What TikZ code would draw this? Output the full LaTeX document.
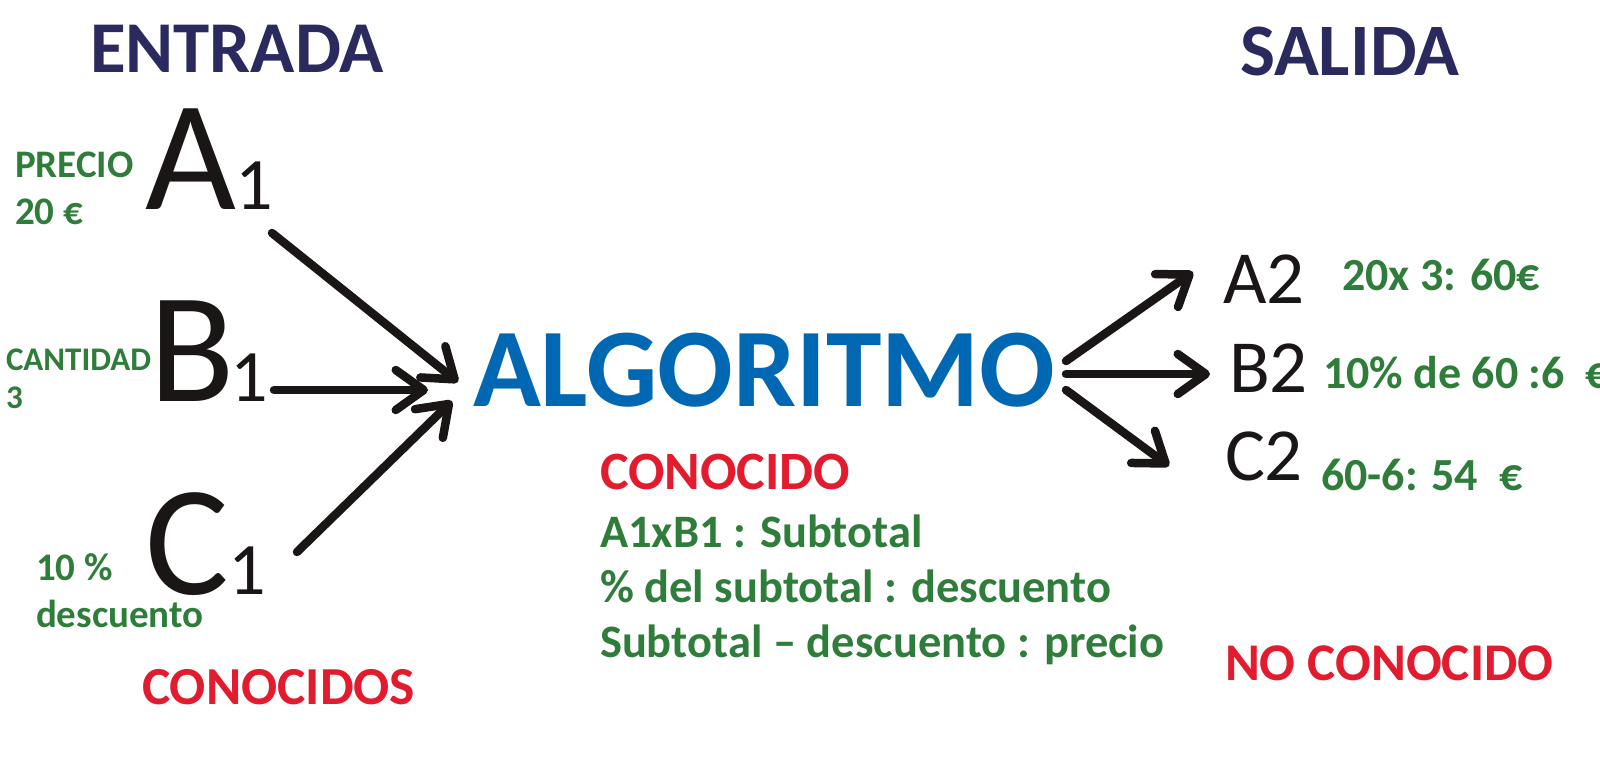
\documentclass[tikz,border=0pt]{standalone}
\usepackage{fontspec}
\setmainfont{Carlito}
\usetikzlibrary{arrows.meta}
\definecolor{navy}{HTML}{2B2A5E}
\definecolor{grn}{HTML}{2E7D3A}
\definecolor{rd}{HTML}{E31B2F}
\definecolor{blu}{HTML}{0068B3}
\definecolor{blk}{HTML}{1A1616}
\tikzset{
  txt/.style={inner sep=0pt, outer sep=0pt, anchor=base west},
  head/.style={txt, text=navy, font=\bfseries\fontsize{73}{85}\selectfont},
  note/.style={txt, text=grn, font=\bfseries\fontsize{39}{47}\selectfont},
  note2/.style={txt, text=grn, font=\bfseries\fontsize{46.5}{55}\selectfont},
  known/.style={txt, text=rd, font=\bfseries\fontsize{53.5}{62}\selectfont},
  big/.style={txt, text=blk, font=\fontsize{157}{160}\selectfont},
  sub/.style={txt, text=blk, font=\fontsize{74}{80}\selectfont},
  outv/.style={txt, text=blk, font=\fontsize{75}{80}\selectfont},
  arr/.style={draw=blk, line width=8.5pt, line cap=round,
    -{Straight Barb[length=28pt, width=40pt, line width=8.5pt, round]}}
}
\begin{document}
\begin{tikzpicture}[x=1pt, y=-1pt]
\useasboundingbox[fill=white] (0,0) rectangle (1600,763);
% headings
\node[head] (entrada) at (90,72) {ENTRADA};
\node[head, font=\bfseries\fontsize{74}{85}\selectfont] (salida) at (1240,75) {SALIDA};
% inputs
\node[note] (precio) at (15,177) {PRECIO};
\node[note] (precio2) at (15,224) {20 €};
\node[big] (a1) at (145,209) {A};
\node[sub] (a1s) at (235,209) {1};
\node[note, font=\bfseries\fontsize{33}{38}\selectfont] (cant) at (6,370) {CANTIDAD};
\node[note, font=\bfseries\fontsize{33}{38}\selectfont] (cant2) at (6,408) {3};
\node[big] (b1) at (149,401) {B};
\node[sub] (b1s) at (230,401) {1};
\node[note] (desc) at (36,580) {10 \%};
\node[note] (desc2) at (36,627) {descuento};
\node[big] (c1) at (145,594) {C};
\node[sub] (c1s) at (228,594) {1};
\node[known] (conocidos) at (142,704) {CONOCIDOS};
% algorithm
\node[txt, text=blu, font=\bfseries\fontsize{112}{120}\selectfont] (alg) at (473,406) {ALGORITMO};
\node[known, font=\bfseries\fontsize{54}{62}\selectfont] (conocido) at (600,489) {CONOCIDO};
\node[note2] (r1) at (600,547) {A1xB1 : Subtotal};
\node[note2] (r2) at (600,602) {\% del subtotal : descuento};
\node[note2] (r3) at (600,657) {Subtotal – descuento : precio};
% outputs
\node[outv] (a2) at (1223,303) {A2};
\node[outv] (b2) at (1229,392) {B2};
\node[outv] (c2) at (1225,480) {C2};
\node[note2, font=\bfseries\fontsize{46}{55}\selectfont] (ra2) at (1342,290) {20x 3: 60€};
\node[note2, font=\bfseries\fontsize{46}{55}\selectfont] (rb2) at (1323,388) {10\% de 60 :6~~€};
\node[note2, font=\bfseries\fontsize{46}{55}\selectfont] (rc2) at (1321,490) {60-6: 54~~€};
\node[known, font=\bfseries\fontsize{53}{62}\selectfont] (noconocido) at (1225,680) {NO CONOCIDO};
% arrow endpoints
\coordinate (a1o) at (272,233);
\coordinate (b1o) at (274,390);
\coordinate (c1o) at (297,552);
\coordinate (ina) at (458,382);
\coordinate (inb) at (428,390);
\coordinate (inc) at (452,401);
\coordinate (outa) at (1066,361);
\coordinate (outb) at (1066,374);
\coordinate (outc) at (1066,390);
\coordinate (a2i) at (1193,272);
\coordinate (b2i) at (1210,374);
\coordinate (c2i) at (1169,466);
\draw[arr] (a1o) -- (ina);
\draw[arr] (b1o) -- (inb);
\draw[arr] (c1o) -- (inc);
\draw[arr] (outa) -- (a2i);
\draw[arr] (outb) -- (b2i);
\draw[arr] (outc) -- (c2i);
\end{tikzpicture}
\end{document}
